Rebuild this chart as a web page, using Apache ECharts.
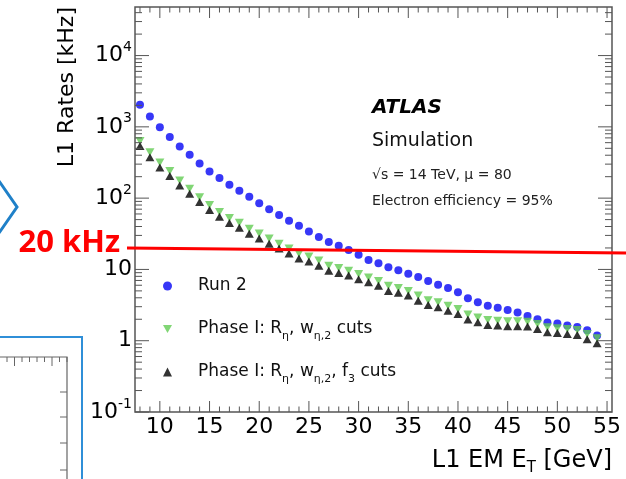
<!DOCTYPE html>
<html>
<head>
<meta charset="utf-8">
<title>L1 EM rates</title>
<script src="https://cdn.jsdelivr.net/npm/echarts@6/dist/echarts.min.js"></script>
<style>
  html, body { margin: 0; padding: 0; background: #fff; }
  #myChart { width: 626px; height: 479px; }
</style>
</head>
<body>
<div id="myChart"></div>
<script>
// L1 EM E_T threshold [GeV]
const energies = [8, 9, 10, 11, 12, 13, 14, 15, 16, 17, 18, 19, 20, 21, 22, 23,
  24, 25, 26, 27, 28, 29, 30, 31, 32, 33, 34, 35, 36, 37, 38, 39, 40, 41, 42,
  43, 44, 45, 46, 47, 48, 49, 50, 51, 52, 53, 54]

// rates in kHz
const run2Rates = [2050, 1400, 985, 720, 530, 405, 307, 237, 192, 154, 127, 105,
  85, 70, 58, 48, 41, 34, 28.4, 24.2, 21.4, 18.8, 16, 13.6, 12.2, 10.7, 9.7, 8.7,
  7.8, 6.9, 6.1, 5.5, 4.8, 3.95, 3.45, 3.1, 2.9, 2.7, 2.48, 2.23, 2.0, 1.8, 1.75,
  1.63, 1.56, 1.4, 1.18]
const phaseIRwRates = [634, 441, 317, 240, 177, 135, 103, 80, 64, 52.5, 45, 37.2,
  31.9, 27.1, 23, 19.6, 16.7, 15.2, 13.3, 11.3, 10.5, 9.6, 8.6, 7.7, 6.9, 5.9, 5.5,
  5.0, 4.3, 3.7, 3.45, 3.1, 2.78, 2.34, 2.12, 1.95, 1.91, 1.87, 1.87, 1.85, 1.71,
  1.54, 1.5, 1.46, 1.41, 1.24, 1.08]
const phaseIRwF3Rates = [540, 376, 270, 205, 150, 115, 88, 68, 55, 44.7, 38.4,
  31.6, 27.1, 23, 19.6, 16.7, 14.2, 12.9, 11.3, 9.6, 8.9, 8.2, 7.3, 6.6, 5.9, 5.0,
  4.7, 4.3, 3.65, 3.16, 2.94, 2.64, 2.37, 1.99, 1.81, 1.66, 1.63, 1.59, 1.59, 1.58,
  1.46, 1.31, 1.28, 1.24, 1.2, 1.05, 0.92]

const xTicks = [10, 15, 20, 25, 30, 35, 40, 45, 50, 55]
const yTicks = [0.1, 1, 10, 100, 1000, 10000]
const limitRate = 20

const seriesNames = ['Run 2', 'Phase I: Rη, wη,2 cuts', 'Phase I: Rη, wη,2, f3 cuts']
const legendLabels = {
  'Run 2': 'Run 2',
  'Phase I: Rη, wη,2 cuts': 'Phase I: R{sub|η}, w{sub|η,2} cuts',
  'Phase I: Rη, wη,2, f3 cuts': 'Phase I: R{sub|η}, w{sub|η,2}, f{sub|3} cuts'
}

const FONT = 'DejaVu Sans'
const X_MIN = 7.5
const X_MAX = 55.5
const Y_MIN = 0.1
const Y_MAX = 48000

function pairs(values) {
  return energies.map((e, i) => [e, values[i]])
}

const myChart = echarts.init(document.getElementById('myChart'))

const options = {
  backgroundColor: '#fff',
  animation: false,
  grid: {
    left: 135,
    right: 14,
    top: 7,
    bottom: 67,
    outerBoundsMode: 'none',
    containLabel: false,
    show: true,
    borderColor: '#555',
    borderWidth: 1.5,
    backgroundColor: '#fff'
  },
  legend: {
    data: seriesNames,
    orient: 'vertical',
    left: 158,
    top: 268,
    itemWidth: 9,
    itemHeight: 9,
    itemGap: 17,
    formatter: name => legendLabels[name],
    textStyle: {
      fontFamily: FONT,
      fontSize: 17,
      color: '#111',
      lineHeight: 26,
      padding: [0, 0, 0, 21],
      rich: {
        sub: { fontFamily: FONT, fontSize: 11, lineHeight: 12, verticalAlign: 'bottom', color: '#111' }
      }
    }
  },
  xAxis: {
    type: 'value',
    min: X_MIN,
    max: X_MAX,
    splitNumber: 10,
    axisLine: { show: false },
    axisTick: { show: false },
    splitLine: { show: false },
    axisLabel: {
      showMinLabel: false,
      showMaxLabel: false,
      margin: 4,
      fontFamily: FONT,
      fontSize: 22,
      color: '#000'
    }
  },
  yAxis: {
    type: 'log',
    logBase: 10,
    min: Y_MIN,
    max: Y_MAX,
    axisLine: { show: false },
    axisTick: { show: false },
    splitLine: { show: false },
    axisLabel: {
      showMaxLabel: false,
      margin: 3,
      fontFamily: FONT,
      fontSize: 22,
      color: '#000',
      lineHeight: 30,
      formatter: v => {
        const p = Math.round(Math.log10(v))
        if (Math.abs(Math.log10(v) - p) > 1e-6) return ''
        if (p === 0) return '1'
        if (p === 1) return '10'
        return '10{sup|' + p + '}'
      },
      rich: {
        sup: { fontFamily: FONT, fontSize: 14, lineHeight: 12, verticalAlign: 'top', color: '#000' }
      }
    }
  },
  series: [
    {
      name: seriesNames[0],
      type: 'scatter',
      symbol: 'circle',
      symbolSize: 8,
      data: pairs(run2Rates),
      itemStyle: { color: '#0505f5' },
      z: 3
    },
    {
      name: seriesNames[1],
      type: 'scatter',
      symbol: 'path://M0,0L10,0L5,9Z',
      symbolSize: [9, 8],
      data: pairs(phaseIRwRates),
      itemStyle: { color: '#62cc52' },
      z: 3
    },
    {
      name: seriesNames[2],
      type: 'scatter',
      symbol: 'triangle',
      symbolSize: [9, 8],
      data: pairs(phaseIRwF3Rates),
      itemStyle: { color: '#000' },
      z: 4
    }
  ],
  graphic: [
    {
      type: 'text', x: 67, y: 7, rotation: Math.PI / 2,
      style: { text: 'L1 Rates [kHz]', fontFamily: FONT, fontSize: 22, fill: '#000', align: 'right', verticalAlign: 'middle' }
    },
    {
      type: 'text', x: 612, y: 461,
      style: {
        text: 'L1 EM E{sub|T} [GeV]', fontFamily: FONT, fontSize: 24, lineHeight: 30, fill: '#000',
        align: 'right', verticalAlign: 'middle',
        rich: { sub: { fontFamily: FONT, fontSize: 15, lineHeight: 12, verticalAlign: 'bottom', fill: '#000' } }
      }
    },
    {
      type: 'text', x: 372, y: 108,
      style: { text: 'ATLAS', fontFamily: FONT, fontSize: 20, fontWeight: 'bold', fontStyle: 'italic', fill: '#000', verticalAlign: 'middle' }
    },
    {
      type: 'text', x: 372, y: 141,
      style: { text: 'Simulation', fontFamily: FONT, fontSize: 19, fill: '#111', verticalAlign: 'middle' }
    },
    {
      type: 'text', x: 372, y: 175,
      style: { text: '√s = 14 TeV, μ = 80', fontFamily: FONT, fontSize: 14, fill: '#222', verticalAlign: 'middle' }
    },
    {
      type: 'text', x: 372, y: 201,
      style: { text: 'Electron efficiency = 95%', fontFamily: FONT, fontSize: 14, fill: '#222', verticalAlign: 'middle' }
    },
    // slide decorations around the plot
    {
      type: 'polyline', shape: { points: [[-1, 181], [17, 207], [-1, 233]] },
      style: { stroke: '#1f80c8', lineWidth: 3, fill: null }
    },
    {
      type: 'text', x: 120, y: 243,
      style: { text: '20 kHz', fontFamily: 'Open Sans', fontWeight: 'bold', fontSize: 31, fill: '#ff0000', align: 'right', verticalAlign: 'middle' }
    },
    {
      type: 'polyline', shape: { points: [[0, 337], [82, 337], [82, 479]] },
      style: { stroke: '#2f8fd8', lineWidth: 2, fill: null }
    },
    {
      type: 'polyline', shape: { points: [[0, 357], [67, 357], [67, 479]] },
      style: { stroke: '#666', lineWidth: 1.2, fill: null }
    }
  ]
}

// small frame of the neighbouring plot
for (let i = 0; i < 9; i++) {
  const x = 7 + i * 7.5
  options.graphic.push({
    type: 'line', shape: { x1: x, y1: 357, x2: x, y2: 357 + (i % 5 === 1 ? 9 : 5) },
    style: { stroke: '#666', lineWidth: 1 }
  })
}
;[392, 417, 443, 470].forEach(y => {
  options.graphic.push({
    type: 'line', shape: { x1: 67, y1: y, x2: 60, y2: y },
    style: { stroke: '#666', lineWidth: 1 }
  })
})

myChart.setOption(options)

// ROOT style ticks on all four sides of the frame, placed through the axes
// (z above the grid background, otherwise they are hidden)
const toPx = (x, y) => myChart.convertToPixel({ gridIndex: 0 }, [x, y])
const lb = toPx(X_MIN, Y_MIN)
const rt = toPx(X_MAX, Y_MAX)
const extra = []
const tick = (x1, y1, x2, y2) => extra.push({
  type: 'line',
  shape: { x1, y1, x2, y2 },
  style: { stroke: '#555', lineWidth: 1 },
  z: 10
})
for (let v = 8; v <= 55; v++) {
  const px = toPx(v, Y_MIN)[0]
  const len = xTicks.indexOf(v) >= 0 ? 11 : 5.5
  tick(px, lb[1], px, lb[1] - len)
  tick(px, rt[1], px, rt[1] + len)
}
yTicks.forEach(decade => {
  for (let k = 1; k <= 9; k++) {
    const v = k * decade
    if (v > Y_MAX) continue
    const py = toPx(X_MIN, v)[1]
    const len = k === 1 ? 14 : 7
    tick(lb[0], py, lb[0] + len, py)
    tick(rt[0], py, rt[0] - len, py)
  }
})

// 20 kHz limit, drawn across the whole slide
const limitY = toPx(X_MIN, limitRate)[1]
extra.push({
  type: 'line',
  shape: { x1: 127, y1: limitY, x2: 626, y2: limitY + 5 },
  style: { stroke: '#ff0000', lineWidth: 3 },
  z: 11
})

myChart.setOption({ graphic: options.graphic.concat(extra) })
</script>
</body>
</html>
